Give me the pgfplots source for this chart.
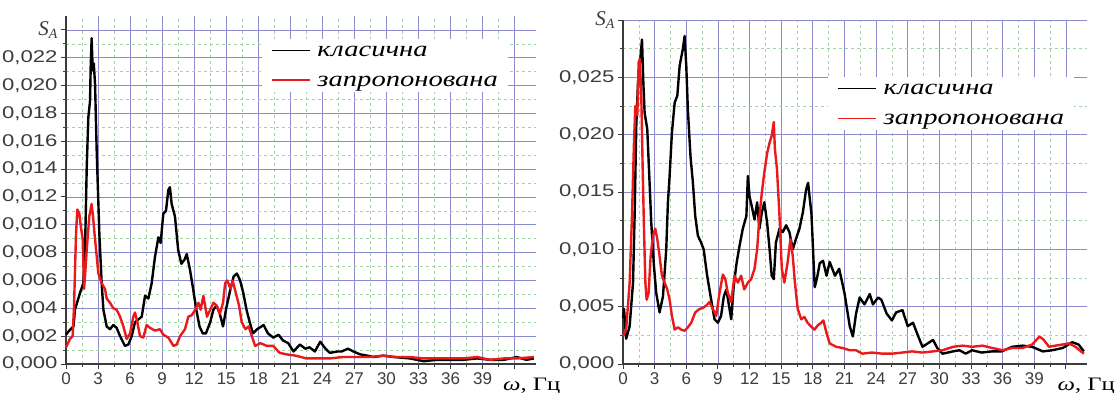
\documentclass[border=0pt]{standalone}
\usepackage{fontspec}
\setmainfont{Liberation Serif}
\newfontfamily\tsans{Liberation Sans}
\newfontfamily\ysans[FakeStretch=1.3]{Liberation Sans}
\newfontfamily\sstretch[FakeStretch=1.3]{Liberation Serif}
\usepackage{pgfplots}
\pgfplotsset{compat=1.18}
\definecolor{majgrid}{RGB}{140,140,205}
\definecolor{mingrid}{RGB}{165,212,165}
\definecolor{tickc}{RGB}{60,60,60}
\definecolor{redc}{RGB}{235,25,25}
\newcommand{\lstrut}{\rule[-5pt]{0pt}{19pt}}
\pgfplotsset{
 myaxis/.style={
  scale only axis, axis x line=bottom, axis y line=left,
  axis line style={-, line width=1.2pt, color=tickc},
  xmin=0, xmax=44, ymin=0,
  xtick={0,3,...,42}, xticklabels={0,3,6,9,12,15,18,21,24,27,30,33,36,39,{}},
  minor x tick num=1, minor y tick num=1,
  grid=both,
  major grid style={majgrid, line width=0.7pt},
  minor grid style={mingrid, dash pattern=on 3pt off 3pt, line width=0.6pt},
  tick align=outside, major tick length=5pt, minor tick length=3pt,
  tick style={tickc, line width=1pt},
  xticklabel style={font=\tsans\fontsize{17}{17}\selectfont, text=tickc},
  yticklabel style={font=\ysans\fontsize{17}{17}\selectfont, text=tickc},
  scaled y ticks=false, clip=false,
  legend cell align=left,
  legend image code/.code={\draw[#1, line width=1.3pt] (0pt,0pt) -- (38pt,0pt);},
  legend style={anchor=north west, draw=none, fill=white,
    font=\sstretch\itshape\fontsize{22}{26}\selectfont,
    nodes={inner sep=1pt}, row sep=12pt, column sep=6pt, inner xsep=9pt, inner ysep=3pt},
 },
 blk/.style={black, line width=2.4pt, line join=round},
 rd/.style={redc, line width=2.4pt, line join=round},
}
\newcommand{\SA}{{\rmfamily\itshape\fontsize{21}{21}\selectfont S\raisebox{-0.25ex}{\fontsize{14}{14}\selectfont A}}}
\newcommand{\omlab}{{\sstretch\fontsize{19}{19}\selectfont\textit{ω}, Гц}}
\begin{document}
\begin{tikzpicture}
\path[use as bounding box] (0pt,0pt) rectangle (1119pt,392pt);
\begin{axis}[myaxis, at={(66pt,28pt)}, anchor=south west, width=470pt, height=348pt,
  ymax=0.025,
  ytick={0,0.002,0.004,0.006,0.008,0.010,0.012,0.014,0.016,0.018,0.020,0.022,0.024},
  yticklabels={{0,000},{0,002},{0,004},{0,006},{0,008},{0,010},{0,012},{0,014},{0,016},{0,018},{0,020},{0,022},{\SA}},
  legend style={at={(rel axis cs:0.417,0.935)}},
]
\addplot[blk] coordinates {
(0,0.0021)(0.3,0.0024)(0.7,0.0027)(0.84,0.0039)(1.31,0.0051)(1.62,0.0058)(1.78,0.0082)(1.94,0.0141)
(2.09,0.0177)(2.25,0.0189)(2.31,0.0213)(2.4,0.0234)(2.5,0.0211)(2.6,0.0216)(2.72,0.0201)(2.87,0.0154)
(3.12,0.0094)(3.34,0.0058)(3.5,0.0039)(3.81,0.0027)(4.12,0.0025)(4.43,0.0028)(4.74,0.0026)(5.06,0.0020)
(5.52,0.0013)(5.84,0.0014)(6.15,0.0020)(6.46,0.0030)(6.77,0.0032)(7.09,0.0034)(7.4,0.0049)(7.71,0.0047)
(8.02,0.0058)(8.33,0.0077)(8.65,0.0091)(8.86,0.0087)(9.11,0.0108)(9.36,0.0110)(9.58,0.0125)(9.73,0.0127)
(9.89,0.0115)(10.2,0.0106)(10.5,0.0082)(10.8,0.0072)(11.1,0.0075)(11.3,0.0079)(11.6,0.0068)(11.9,0.0054)
(12.2,0.0039)(12.5,0.0027)(12.8,0.0022)(13.1,0.0022)(13.5,0.0030)(13.8,0.0039)(14.1,0.0042)(14.4,0.0036)
(14.7,0.0027)(15.0,0.0040)(15.4,0.0054)(15.7,0.0063)(16.0,0.0065)(16.3,0.0060)(16.6,0.0051)(16.9,0.0039)
(17.2,0.0030)(17.5,0.0022)(17.9,0.0025)(18.5,0.0028)(18.9,0.0022)(19.4,0.0019)(19.9,0.0021)(20.3,0.0017)
(20.8,0.0015)(21.3,0.0009)(21.9,0.0014)(22.4,0.0011)(22.8,0.0012)(23.3,0.0009)(23.8,0.0016)(24.3,0.0011)
(24.7,0.0008)(25.4,0.0009)(25.8,0.0009)(26.4,0.0011)(26.9,0.0009)(27.5,0.0007)(28.2,0.0006)(28.8,0.0005)
(29.7,0.0006)(30.7,0.0005)(32.2,0.0004)(33.5,0.0002)(34.7,0.0003)(36,0.0003)(37.2,0.0003)(38.5,0.0004)
(39.7,0.0003)(41,0.0003)(42.2,0.0005)(43.1,0.0003)(43.8,0.0004)
};
\addlegendentry{\lstrut класична}
\addplot[rd] coordinates {
(0,0.0012)(0.37,0.0018)(0.62,0.0020)(0.75,0.0041)(0.94,0.0094)(1.06,0.0111)(1.25,0.0108)(1.40,0.0098)
(1.56,0.0090)(1.69,0.0054)(1.78,0.0063)(1.94,0.0082)(2.18,0.0106)(2.4,0.0115)(2.53,0.0106)(2.7,0.0091)
(3.03,0.0065)(3.34,0.0058)(3.65,0.0054)(3.81,0.0047)(4.12,0.0044)(4.43,0.0040)(4.74,0.0039)(5.06,0.0034)
(5.37,0.0027)(5.68,0.0018)(6.0,0.0022)(6.3,0.0034)(6.46,0.0037)(6.68,0.0030)(6.93,0.0020)(7.24,0.0019)
(7.55,0.0028)(7.86,0.0026)(8.33,0.0024)(8.8,0.0025)(9.11,0.0021)(9.58,0.0019)(10.05,0.0013)(10.36,0.0014)
(10.68,0.0020)(11.14,0.0025)(11.45,0.0034)(11.77,0.0035)(12.1,0.0039)(12.4,0.0044)(12.6,0.0039)(12.86,0.0049)
(13.2,0.0034)(13.5,0.0039)(13.8,0.0044)(14.1,0.0042)(14.4,0.0036)(14.7,0.0044)(14.9,0.0058)(15.1,0.0060)
(15.4,0.0054)(15.6,0.0060)(15.9,0.0051)(16.2,0.0042)(16.45,0.0030)(16.8,0.0025)(17.1,0.0027)(17.4,0.0020)
(17.7,0.0013)(18.2,0.0015)(18.8,0.0013)(19.4,0.0013)(20.0,0.0008)(20.6,0.0007)(21.5,0.0006)(22.5,0.0004)
(23.4,0.0004)(24.7,0.0004)(25.9,0.0005)(27.2,0.0005)(28.4,0.0005)(29.7,0.0006)(30.9,0.0005)(32.2,0.0005)
(33.5,0.0004)(34.7,0.0004)(36,0.0004)(37.2,0.0004)(38.5,0.0005)(39.7,0.0003)(41,0.0004)(42.2,0.0004)(43.8,0.0005)
};
\addlegendentry{\lstrut запропонована}
\node[anchor=base west, inner sep=0pt] at ([yshift=-26pt]axis cs:40.9,0) {\omlab};
\end{axis}
\begin{axis}[myaxis, at={(623pt,28pt)}, anchor=south west, width=464pt, height=344pt,
  ymax=0.030,
  ytick={0,0.005,0.010,0.015,0.020,0.025,0.030},
  yticklabels={{0,000},{0,005},{0,010},{0,015},{0,020},{0,025},{\SA}},
  legend style={at={(rel axis cs:0.442,0.835)}},
]
\addplot[blk] coordinates {
(0,0.0040)(0.1,0.0048)(0.3,0.0022)(0.63,0.0033)(0.95,0.0071)(1.1,0.0129)(1.26,0.0208)(1.42,0.0245)
(1.67,0.0269)(1.8,0.0283)(1.93,0.0245)(2.05,0.0219)(2.3,0.0205)(2.52,0.0158)(2.68,0.0123)(2.93,0.0086)
(3.15,0.0062)(3.47,0.0045)(3.79,0.0059)(4.1,0.0100)(4.26,0.0141)(4.42,0.0164)(4.64,0.0202)(4.9,0.0228)
(5.15,0.0234)(5.37,0.0260)(5.68,0.0275)(5.84,0.0286)(6.0,0.0260)(6.15,0.0222)(6.4,0.0181)(6.63,0.0158)
(6.85,0.0129)(7.1,0.0112)(7.4,0.0106)(7.65,0.0100)(7.98,0.0077)(8.36,0.0056)(8.68,0.0039)(9.0,0.0036)
(9.3,0.0042)(9.56,0.0059)(9.8,0.0065)(10.05,0.0051)(10.26,0.0039)(10.5,0.0068)(10.77,0.0088)(11.05,0.0103)
(11.36,0.0118)(11.7,0.0129)(11.84,0.0164)(12.0,0.0146)(12.2,0.0138)(12.47,0.0126)(12.72,0.0141)(12.94,0.0118)
(13.16,0.0132)(13.4,0.0141)(13.67,0.0123)(13.9,0.0100)(14.1,0.0077)(14.3,0.0074)(14.5,0.0106)(14.84,0.0118)
(15.15,0.0115)(15.47,0.0121)(15.78,0.0115)(16.1,0.0100)(16.4,0.0109)(16.73,0.0118)(17.05,0.0132)(17.36,0.0152)
(17.55,0.0158)(17.87,0.0131)(18.18,0.0067)(18.4,0.0075)(18.66,0.0088)(18.97,0.0090)(19.3,0.0077)(19.6,0.0089)
(20.1,0.0077)(20.5,0.0083)(21.0,0.0062)(21.5,0.0033)(21.8,0.0024)(22.1,0.0044)(22.44,0.0058)(22.9,0.0052)
(23.4,0.0061)(23.7,0.0052)(24.2,0.0058)(24.5,0.0056)(25.0,0.0044)(25.5,0.0038)(25.9,0.0045)(26.5,0.0047)
(27.0,0.0033)(27.5,0.0036)(28.0,0.0024)(28.4,0.0015)(28.9,0.0018)(29.4,0.0021)(29.8,0.0014)(30.3,0.0009)
(31.3,0.0011)(31.9,0.0012)(32.5,0.0009)(33.1,0.0012)(34.0,0.0010)(35.0,0.0011)(35.9,0.0011)(36.9,0.0015)
(37.9,0.0016)(38.8,0.0015)(39.8,0.0011)(40.7,0.0012)(41.7,0.0014)(42.6,0.0019)(43.2,0.0017)(43.7,0.0011)
};
\addlegendentry{\lstrut класична}
\addplot[rd] coordinates {
(0,0.0024)(0.3,0.0030)(0.63,0.0071)(0.85,0.0129)(1.04,0.0193)(1.17,0.0225)(1.36,0.0217)(1.48,0.0263)
(1.6,0.0266)(1.74,0.0231)(1.86,0.0173)(1.99,0.0118)(2.12,0.0071)(2.24,0.0056)(2.43,0.0062)(2.62,0.0094)
(2.84,0.0112)(3.06,0.0118)(3.25,0.0109)(3.47,0.0094)(3.69,0.0077)(3.94,0.0071)(4.2,0.0065)(4.42,0.0056)
(4.64,0.0042)(4.9,0.0030)(5.21,0.0032)(5.52,0.0030)(5.84,0.0029)(6.15,0.0032)(6.47,0.0036)(6.85,0.0045)
(7.26,0.0048)(7.58,0.0049)(7.9,0.0051)(8.2,0.0054)(8.52,0.0048)(8.84,0.0042)(9.15,0.0062)(9.47,0.0078)
(9.7,0.0074)(9.94,0.0062)(10.26,0.0054)(10.57,0.0077)(10.9,0.0071)(11.2,0.0077)(11.5,0.0065)(11.84,0.0071)
(12.15,0.0074)(12.47,0.0083)(12.72,0.0100)(12.94,0.0129)(13.16,0.0149)(13.4,0.0167)(13.67,0.0184)(13.9,0.0193)
(14.1,0.0199)(14.3,0.0211)(14.4,0.0188)(14.6,0.0170)(14.84,0.0129)(15.06,0.0083)(15.3,0.0071)(15.6,0.0088)
(15.88,0.0109)(16.1,0.0094)(16.3,0.0071)(16.57,0.0048)(16.9,0.0039)(17.2,0.0041)(17.5,0.0036)(17.8,0.0033)
(18.15,0.0030)(18.5,0.0034)(18.8,0.0036)(19.0,0.0038)(19.3,0.0027)(19.6,0.0018)(20.2,0.0015)(20.8,0.0014)
(21.5,0.0012)(22.1,0.0012)(22.7,0.0009)(23.6,0.0010)(24.6,0.0009)(25.5,0.0009)(26.5,0.0010)(27.4,0.0011)
(28.4,0.0010)(29.4,0.0011)(30.3,0.0012)(31.3,0.0015)(32.2,0.0016)(33.1,0.0015)(34.1,0.0016)(35.0,0.0014)
(36.0,0.0012)(36.9,0.0014)(37.9,0.0014)(38.8,0.0017)(39.5,0.0024)(39.9,0.0021)(40.4,0.0015)(41.0,0.0016)
(41.7,0.0017)(42.3,0.0018)(42.9,0.0015)(43.7,0.0009)
};
\addlegendentry{\lstrut запропонована}
\node[anchor=base west, inner sep=0pt] at ([yshift=-26pt]axis cs:41.2,0) {\omlab};
\end{axis}
\end{tikzpicture}
\end{document}
